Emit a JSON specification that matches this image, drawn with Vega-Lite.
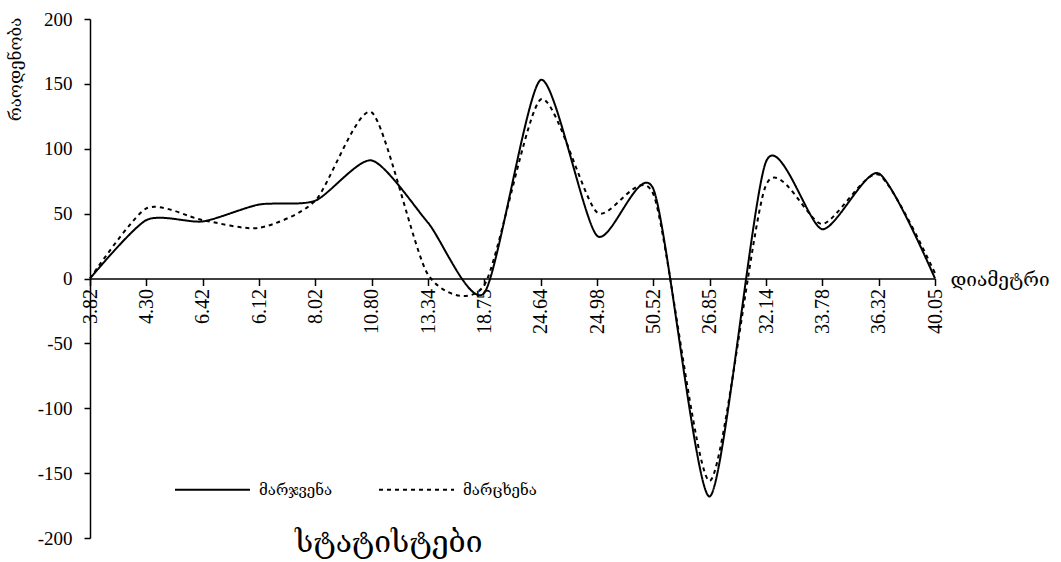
{
  "$schema": "https://vega.github.io/schema/vega-lite/v6.json",
  "width": 845,
  "height": 519,
  "autosize": {"type": "none"},
  "padding": {"left": 90, "top": 19, "right": 126, "bottom": 24},
  "background": "white",
  "config": {"view": {"stroke": null}},
  "title": {
    "text": "სტატისტები",
    "orient": "bottom",
    "anchor": "start",
    "frame": "group",
    "dx": 205,
    "offset": -20,
    "font": "DejaVu Serif",
    "fontSize": 30,
    "fontWeight": "normal",
    "color": "black"
  },
  "data": {
    "values": [
      {"stat": "3.82", "side": "მარჯვენა", "value": 0},
      {"stat": "4.30", "side": "მარჯვენა", "value": 45},
      {"stat": "6.42", "side": "მარჯვენა", "value": 44},
      {"stat": "6.12", "side": "მარჯვენა", "value": 57},
      {"stat": "8.02", "side": "მარჯვენა", "value": 60},
      {"stat": "10.80", "side": "მარჯვენა", "value": 91},
      {"stat": "13.34", "side": "მარჯვენა", "value": 43},
      {"stat": "18.75", "side": "მარჯვენა", "value": -11},
      {"stat": "24.64", "side": "მარჯვენა", "value": 153},
      {"stat": "24.98", "side": "მარჯვენა", "value": 33},
      {"stat": "50.52", "side": "მარჯვენა", "value": 69},
      {"stat": "26.85", "side": "მარჯვენა", "value": -168},
      {"stat": "32.14", "side": "მარჯვენა", "value": 90},
      {"stat": "33.78", "side": "მარჯვენა", "value": 38},
      {"stat": "36.32", "side": "მარჯვენა", "value": 81},
      {"stat": "40.05", "side": "მარჯვენა", "value": 0},
      {"stat": "3.82", "side": "მარცხენა", "value": 0},
      {"stat": "4.30", "side": "მარცხენა", "value": 54},
      {"stat": "6.42", "side": "მარცხენა", "value": 45},
      {"stat": "6.12", "side": "მარცხენა", "value": 39},
      {"stat": "8.02", "side": "მარცხენა", "value": 60},
      {"stat": "10.80", "side": "მარცხენა", "value": 128},
      {"stat": "13.34", "side": "მარცხენა", "value": 3},
      {"stat": "18.75", "side": "მარცხენა", "value": -5},
      {"stat": "24.64", "side": "მარცხენა", "value": 138},
      {"stat": "24.98", "side": "მარცხენა", "value": 51},
      {"stat": "50.52", "side": "მარცხენა", "value": 65},
      {"stat": "26.85", "side": "მარცხენა", "value": -156},
      {"stat": "32.14", "side": "მარცხენა", "value": 72},
      {"stat": "33.78", "side": "მარცხენა", "value": 42},
      {"stat": "36.32", "side": "მარცხენა", "value": 80},
      {"stat": "40.05", "side": "მარცხენა", "value": 4}
    ]
  },
  "mark": {"type": "line", "interpolate": "cardinal", "tension": 0.3, "color": "black", "strokeWidth": 2},
  "encoding": {
    "x": {
      "field": "stat",
      "type": "ordinal",
      "sort": null,
      "scale": {"type": "point", "padding": 0},
      "axis": {
        "orient": "bottom",
        "offset": -259.5,
        "title": "დიამეტრი",
        "titleX": 860,
        "titleY": 7,
        "titleAlign": "left",
        "titleBaseline": "alphabetic",
        "titleFont": "DejaVu Serif",
        "titleFontSize": 19,
        "titleFontWeight": "normal",
        "titleColor": "black",
        "labelAngle": -90,
        "labelFont": "Liberation Serif",
        "labelFontSize": 20,
        "labelColor": "black",
        "labelPadding": 3,
        "tickSize": 7,
        "tickColor": "black",
        "tickWidth": 1.5,
        "domainColor": "black",
        "domainWidth": 1.5,
        "grid": false
      }
    },
    "y": {
      "field": "value",
      "type": "quantitative",
      "scale": {"domain": [-200, 200], "nice": false},
      "axis": {
        "values": [-200, -150, -100, -50, 0, 50, 100, 150, 200],
        "labelExpr": "'' + datum.value",
        "title": "რაოდენობა",
        "titleX": -75,
        "titleY": -2,
        "titleAngle": 270,
        "titleAlign": "right",
        "titleBaseline": "middle",
        "titleFont": "DejaVu Serif",
        "titleFontSize": 17,
        "titleFontWeight": "normal",
        "titleColor": "black",
        "labelFont": "Liberation Serif",
        "labelFontSize": 19,
        "labelColor": "black",
        "labelPadding": 12,
        "tickSize": 6,
        "tickColor": "black",
        "tickWidth": 1.5,
        "domainColor": "black",
        "domainWidth": 1.5,
        "grid": false
      }
    },
    "strokeDash": {
      "field": "side",
      "type": "nominal",
      "scale": {"domain": ["მარჯვენა", "მარცხენა"], "range": [[1, 0], [4, 4]]},
      "legend": {
        "orient": "none",
        "legendX": 84,
        "legendY": 432,
        "direction": "horizontal",
        "title": null,
        "symbolType": "stroke",
        "symbolSize": 5625,
        "symbolStrokeWidth": 2,
        "symbolStrokeColor": "black",
        "labelFont": "DejaVu Serif",
        "labelFontSize": 15,
        "labelColor": "black",
        "labelOffset": 8,
        "columnPadding": 42,
        "padding": 0
      }
    }
  }
}
